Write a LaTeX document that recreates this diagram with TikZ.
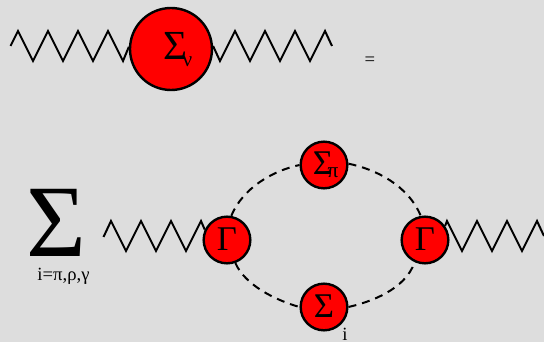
\documentclass[tikz,border=0pt]{standalone}
\usepackage{fontspec}
\setmainfont{Liberation Serif}
\definecolor{bgc}{HTML}{DDDDDD}
\newcommand{\fs}[1]{\fontsize{#1}{#1}\selectfont}
\tikzset{
  blob/.style={circle,draw=black,fill=red,line width=1.8pt,inner sep=0pt,minimum size=#1},
  zig/.style={line width=1.5pt,line join=miter},
  dsh/.style={line width=1.5pt,dash pattern=on 6pt off 4.5pt},
  lbl/.style={inner sep=0pt,text=black,anchor=base}
}
\begin{document}
\begin{tikzpicture}[x=0.75pt,y=-0.75pt]
\useasboundingbox[fill=bgc] (0,0) rectangle (544,342);
\node[blob=61.5pt] (T) at (171,49) {};
\node[blob=35pt] (L) at (227,240) {};
\node[blob=35pt] (R) at (425,240) {};
\node[blob=35pt] (U) at (324,165) {};
\node[blob=35pt] (D) at (324,307) {};
\coordinate (a) at (10.5,46);
\coordinate (b) at (332,46);
\coordinate (c) at (103.5,237);
\coordinate (d) at (544,236);
\draw[zig] (a) -- (18,31) -- (33,61) -- (48,31) -- (63,61) -- (78,31) -- (93,61) -- (108,31) -- (123,61) -- (T.177);
\draw[zig] (T.4) -- (220,61) -- (235,31) -- (250,61) -- (265,31) -- (280,61) -- (295,31) -- (310,61) -- (325,31) -- (b);
\draw[zig] (c) -- (111,221) -- (126,251) -- (141,221) -- (156,251) -- (171,221) -- (186,251) -- (201,221) -- (L.155);
\draw[zig] (R.35) -- (447,221) -- (462,251) -- (477,221) -- (492,251) -- (507,221) -- (522,251) -- (537,221) -- (d);
\draw[dsh] (L.80) .. controls (243,188) and (272,171) .. (U.180);
\draw[dsh] (U.3) .. controls (375,169) and (408,185) .. (R.100);
\draw[dsh] (L.-70) .. controls (245,285) and (275,300) .. (D.180);
\draw[dsh] (D.0) .. controls (370,302) and (405,290) .. (R.-115);
\node[lbl,font=\fs{31}] (s1) at (176,60) {Σ};
\node[lbl,font=\fs{16}] (s2) at (187.5,67) {ν};
\node[lbl,font=\fs{14}] (s3) at (370,66) {=};
\node[lbl,font=\fs{77}] (s4) at (56,257) {Σ};
\node[lbl,font=\fs{14}] (s5) at (63.5,281) {i=π,ρ,γ};
\node[lbl,font=\fs{26}] (s6) at (227,251) {Γ};
\node[lbl,font=\fs{26}] (s7) at (425,251) {Γ};
\node[lbl,font=\fs{26}] (s8) at (323,175) {Σ};
\node[lbl,font=\fs{16}] (s9) at (333,178) {π};
\node[lbl,font=\fs{26}] (s10) at (324,318) {Σ};
\node[lbl,font=\fs{14}] (s11) at (345,341) {i};
\end{tikzpicture}
\end{document}
